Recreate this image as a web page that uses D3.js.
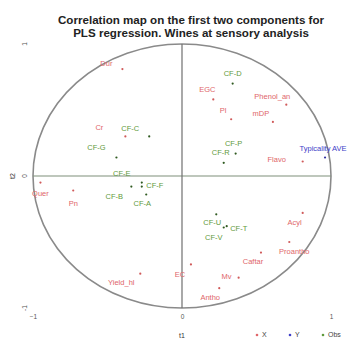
<!DOCTYPE html>
<html>
<head>
<meta charset="utf-8">
<script src="https://cdn.jsdelivr.net/npm/d3@7"></script>
<style>
  body { margin: 0; background: #fff; }
  text { font-family: "Liberation Sans", Arial, sans-serif; }
</style>
</head>
<body>
<div id="chart"></div>
<script>
// X block variables (sensory / chemical descriptors)
const xNames = ['Dur', 'Cr', 'Quer', 'Pn', 'EGC', 'Pl', 'Phenol_an', 'mDP', 'Flavo',
  'Acyl', 'Proantho', 'Caftar', 'Mv', 'EC', 'Antho', 'Yield_hl'];
const xT1 = [-0.40, -0.38, -0.95, -0.73, 0.21, 0.33, 0.70, 0.61, 0.81,
  0.81, 0.72, 0.53, 0.38, 0.06, 0.25, -0.28];
const xT2 = [0.81, 0.30, -0.05, -0.11, 0.58, 0.43, 0.54, 0.41, 0.11,
  -0.28, -0.50, -0.58, -0.77, -0.67, -0.85, -0.74];

// Y block
const yNames = ['Typicality AVE'];
const yT1 = [0.96];
const yT2 = [0.14];

// observations
const obsNames = ['CF-C', 'CF-G', 'CF-D', 'CF-P', 'CF-R', 'CF-E', 'CF-F', 'CF-B', 'CF-A',
  'CF-U', 'CF-T', 'CF-V'];
const obsT1 = [-0.22, -0.44, 0.34, 0.36, 0.28, -0.27, -0.27, -0.34, -0.24,
  0.23, 0.30, 0.28];
const obsT2 = [0.30, 0.14, 0.70, 0.17, 0.10, -0.05, -0.08, -0.08, -0.14,
  -0.29, -0.38, -0.39];

const axisTicks = [-1, 0, 1];
const titleLines = ['Correlation map on the first two components for',
  'PLS regression. Wines at sensory analysis'];
const legendItems = ['X', 'Y', 'Obs'];

const width = 353, height = 340;
const colX = '#e0666a', colY = '#4040c8', colObs = '#5f9a3c';

// label nudges (px) so text sits beside its point
const nudge = {
  'Dur': [-16, -6], 'Cr': [-26, -9], 'Quer': [0, 11], 'Pn': [0, 13], 'EGC': [-6, -10],
  'Pl': [-8, -9], 'Phenol_an': [-14, -8], 'mDP': [-12, -9], 'Flavo': [-26, -2],
  'Acyl': [-8, 9], 'Proantho': [5, 9], 'Caftar': [-8, 9], 'Mv': [-12, -1],
  'EC': [-11, 10], 'Antho': [-9, 9], 'Yield_hl': [-19, 9], 'Typicality AVE': [-2, -9],
  'CF-C': [-19, -8], 'CF-G': [-20, -10], 'CF-D': [0, -10], 'CF-P': [-2, -10],
  'CF-R': [-3, -10], 'CF-E': [-20, -9], 'CF-F': [13, -1], 'CF-B': [-17, 10],
  'CF-A': [-4, 9], 'CF-U': [-4, 8], 'CF-T': [12, 2], 'CF-V': [-10, 10]
};

const svg = d3.select('#chart').append('svg')
  .attr('width', width)
  .attr('height', height);

const x = d3.scaleLinear().domain([-1, 1]).range([33, 331]);
const y = d3.scaleLinear().domain([-1, 1]).range([308, 44]);

// title
svg.append('g').selectAll('text')
  .data(titleLines)
  .enter().append('text')
  .attr('x', 191)
  .attr('y', (d, i) => 24 + i * 13)
  .attr('text-anchor', 'middle')
  .style('font-size', '11.6px')
  .style('font-weight', 'bold')
  .style('fill', '#222')
  .text(d => d);

// unit circle
svg.append('ellipse')
  .attr('cx', x(0))
  .attr('cy', y(0))
  .attr('rx', x(1) - x(0))
  .attr('ry', y(-1) - y(0))
  .style('fill', 'none')
  .style('stroke', '#8a8a8a')
  .style('stroke-width', 1.6);

// cross lines through origin
svg.append('line')
  .attr('x1', x(-1)).attr('x2', x(1))
  .attr('y1', y(0)).attr('y2', y(0))
  .style('stroke', '#7f907a')
  .style('stroke-width', 1.2);
svg.append('line')
  .attr('x1', x(0)).attr('x2', x(0))
  .attr('y1', y(1)).attr('y2', y(-1))
  .style('stroke', '#6f6f6f')
  .style('stroke-width', 1.2);

// axis tick labels
const xAxis = d3.axisBottom(x).tickValues(axisTicks).tickSize(0).tickPadding(0)
  .tickFormat(d3.format('d'));
const gx = svg.append('g')
  .attr('transform', 'translate(0,314)')
  .call(xAxis);
gx.select('.domain').remove();
gx.selectAll('text').style('font-size', '6.5px').style('fill', '#555');

svg.append('g').selectAll('text')
  .data(axisTicks)
  .enter().append('text')
  .attr('transform', d => `translate(27,${y(d)}) rotate(-90)`)
  .attr('text-anchor', 'middle')
  .style('font-size', '6.5px')
  .style('fill', '#555')
  .text(d => d);

svg.append('text')
  .attr('x', x(0))
  .attr('y', 338)
  .attr('text-anchor', 'middle')
  .style('font-size', '7px')
  .style('fill', '#333')
  .text('t1');
svg.append('text')
  .attr('transform', `translate(15,${y(0)}) rotate(-90)`)
  .attr('text-anchor', 'middle')
  .style('font-size', '7px')
  .style('fill', '#333')
  .text('t2');

function drawGroup(names, t1, t2, color, dotColor) {
  const rows = names.map((n, i) => ({name: n, t1: t1[i], t2: t2[i]}));
  const g = svg.append('g');
  g.selectAll('circle')
    .data(rows)
    .enter().append('circle')
    .attr('cx', d => x(d.t1))
    .attr('cy', d => y(d.t2))
    .attr('r', 1.1)
    .style('fill', dotColor);
  g.selectAll('text')
    .data(rows)
    .enter().append('text')
    .attr('x', d => x(d.t1) + nudge[d.name][0])
    .attr('y', d => y(d.t2) + nudge[d.name][1])
    .attr('dy', '0.35em')
    .attr('text-anchor', 'middle')
    .style('font-size', '7.5px')
    .style('fill', color)
    .text(d => d.name);
}

drawGroup(xNames, xT1, xT2, colX, '#d05a5a');
drawGroup(obsNames, obsT1, obsT2, colObs, '#2f5a20');
drawGroup(yNames, yT1, yT2, colY, '#3030a0');

// legend
const legendX = [257, 290, 323];
const legendCol = [colX, colY, colObs];
const lg = svg.append('g').selectAll('g')
  .data(legendItems)
  .enter().append('g')
  .attr('transform', (d, i) => `translate(${legendX[i]},335)`);
lg.append('circle')
  .attr('r', 1.3)
  .style('fill', (d, i) => legendCol[i]);
lg.append('text')
  .attr('x', 5)
  .attr('dy', '0.35em')
  .style('font-size', '7px')
  .style('fill', '#444')
  .text(d => d);
</script>
</body>
</html>
